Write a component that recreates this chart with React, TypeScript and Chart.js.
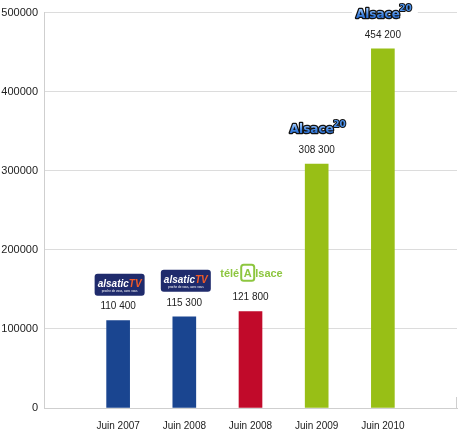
import React, { useEffect, useRef } from "react";
import { Chart, registerables } from "chart.js";

Chart.register(...registerables);

const categories = ["Juin 2007", "Juin 2008", "Juin 2008", "Juin 2009", "Juin 2010"];
const audience = [110400, 115300, 121800, 308300, 454200];
const barColors = ["#1a4590", "#1a4590", "#c10a2a", "#98bf16", "#98bf16"];
const channelLogos = ["alsatic", "alsatic", "tele", "alsace20", "alsace20"];
const yTicks = [0, 100000, 200000, 300000, 400000, 500000];

const SANS = '"Liberation Sans", Arial, sans-serif';

function fmtSpace(v: number) {
  return String(v).replace(/\B(?=(\d{3})+(?!\d))/g, " ");
}

function drawAlsatic(ctx: CanvasRenderingContext2D, cx: number, cy: number) {
  const w = 50, h = 22;
  ctx.save();
  ctx.fillStyle = "#1f2b6c";
  ctx.beginPath();
  (ctx as any).roundRect(cx - w / 2, cy - h / 2, w, h, 3);
  ctx.fill();
  ctx.font = 'italic bold 10px "Liberation Sans", sans-serif';
  ctx.textBaseline = "alphabetic";
  const a = "alsatic", t = "TV";
  const wa = ctx.measureText(a).width;
  const wt = ctx.measureText(t).width;
  const x = cx - (wa + wt) / 2;
  ctx.textAlign = "left";
  ctx.fillStyle = "#ffffff";
  ctx.fillText(a, x, cy + 2);
  ctx.fillStyle = "#f05a28";
  ctx.fillText(t, x + wa, cy + 2);
  ctx.font = '3px "Liberation Sans", sans-serif';
  ctx.fillStyle = "#ffffff";
  ctx.textAlign = "center";
  ctx.fillText("proche de vous, avec vous", cx, cy + 7);
  ctx.restore();
}

function drawTele(ctx: CanvasRenderingContext2D, cx: number, cy: number) {
  ctx.save();
  const green = "#8dc63f";
  ctx.font = 'bold 11px "Liberation Sans", sans-serif';
  ctx.textBaseline = "middle";
  ctx.textAlign = "left";
  const p1 = "télé", p2 = "A", p3 = "lsace";
  const w1 = ctx.measureText(p1).width;
  const w3 = ctx.measureText(p3).width;
  const bw = 13, gap = 2;
  const total = w1 + gap + bw + 1 + w3;
  let x = cx - total / 2;
  ctx.fillStyle = green;
  ctx.fillText(p1, x, cy + 1);
  x += w1 + gap;
  ctx.strokeStyle = green;
  ctx.lineWidth = 2;
  ctx.beginPath();
  (ctx as any).roundRect(x, cy - 8, bw, 16, 2.5);
  ctx.stroke();
  ctx.textAlign = "center";
  ctx.fillText(p2, x + bw / 2, cy + 1);
  x += bw + 1;
  ctx.textAlign = "left";
  ctx.fillText(p3, x, cy + 1);
  ctx.restore();
}

function drawAlsace20(ctx: CanvasRenderingContext2D, cx: number, cy: number) {
  ctx.save();
  ctx.font = 'bold 12px "DejaVu Sans", sans-serif';
  ctx.textBaseline = "middle";
  ctx.textAlign = "center";
  const wA = ctx.measureText("Alsace").width;
  ctx.fillStyle = "#ffffff";
  ctx.fillRect(cx - wA / 2 - 4, cy - 12, wA + 22, 22);
  const grad = ctx.createLinearGradient(0, cy - 6, 0, cy + 6);
  grad.addColorStop(0, "#9cc8ff");
  grad.addColorStop(0.5, "#3d82e0");
  grad.addColorStop(1, "#1d5cc0");
  ctx.lineJoin = "round";
  ctx.strokeStyle = "#111111";
  ctx.lineWidth = 2.5;
  ctx.strokeText("Alsace", cx, cy);
  ctx.fillStyle = grad;
  ctx.fillText("Alsace", cx, cy);
  ctx.font = 'bold 9px "DejaVu Sans", sans-serif';
  ctx.textAlign = "left";
  const sx = cx + wA / 2 - 0.5, sy = cy - 6;
  ctx.lineWidth = 2;
  ctx.strokeText("20", sx, sy);
  ctx.fillStyle = "#4a8fe8";
  ctx.fillText("20", sx, sy);
  ctx.restore();
}

const labelPlugin = {
  id: "barLabels",
  afterDatasetsDraw(chart: any) {
    const ctx: CanvasRenderingContext2D = chart.ctx;
    const meta = chart.getDatasetMeta(0);
    meta.data.forEach((bar: any, i: number) => {
      ctx.save();
      ctx.font = `10px ${SANS}`;
      ctx.fillStyle = "#222222";
      ctx.textAlign = "center";
      ctx.textBaseline = "middle";
      ctx.fillText(fmtSpace(audience[i]), bar.x, bar.y - 14);
      ctx.restore();
      const kind = channelLogos[i];
      if (kind === "alsatic") drawAlsatic(ctx, bar.x + 1.5, bar.y - 36);
      else if (kind === "tele") drawTele(ctx, bar.x + 1, bar.y - 39);
      else drawAlsace20(ctx, bar.x - 5, bar.y - 34);
    });
    const area = chart.chartArea;
    ctx.save();
    ctx.strokeStyle = "#cfcfcf";
    ctx.lineWidth = 1;
    ctx.beginPath();
    ctx.moveTo(area.right - 0.5, area.bottom - 11);
    ctx.lineTo(area.right - 0.5, area.bottom);
    ctx.stroke();
    ctx.restore();
  },
};

export default function App() {
  const ref = useRef<HTMLCanvasElement | null>(null);
  useEffect(() => {
    if (!ref.current) return;
    const chart = new Chart(ref.current, {
      type: "bar",
      data: {
        datasets: [
          {
            data: audience.map((v, i) => ({ x: i, y: v })),
            backgroundColor: barColors,
            barThickness: 23,
          },
        ],
      },
      options: {
        responsive: false,
        animation: false,
        layout: { padding: { left: 0, right: 3, top: 10, bottom: 0 } },
        plugins: { legend: { display: false }, tooltip: { enabled: false } },
        scales: {
          x: {
            type: "linear",
            offset: false,
            min: -1.12,
            max: 5.12,
            grid: { display: false, drawTicks: false, offset: false },
            border: { display: true, color: "#cfcfcf" },
            afterBuildTicks: (s: any) => {
              s.ticks = categories.map((_, i) => ({ value: i }));
            },
            afterFit: (s: any) => {
              s.height = 28;
            },
            ticks: {
              autoSkip: false,
              maxRotation: 0,
              padding: 12,
              color: "#222222",
              font: { family: SANS, size: 10 },
              callback: (v: any) => {
                const i = Math.round(Number(v));
                return Math.abs(Number(v) - i) < 1e-6 && categories[i] ? categories[i] : "";
              },
            },
          },
          y: {
            min: 0,
            max: 500000,
            afterBuildTicks: (s: any) => {
              s.ticks = yTicks.map((v) => ({ value: v }));
            },
            afterFit: (s: any) => {
              s.width = 44;
            },
            grid: { color: "#dcdcdc", drawTicks: false },
            border: { display: true, color: "#cfcfcf" },
            ticks: {
              padding: 6,
              color: "#222222",
              font: { family: SANS, size: 11 },
              callback: (v: any) => String(v),
            },
          },
        },
      },
      plugins: [labelPlugin],
    });
    return () => chart.destroy();
  }, []);
  return (
    <div style={{ position: "absolute", left: 0, top: 0, width: 460, height: 436, background: "#fff" }}>
      <canvas ref={ref} width={460} height={436} />
    </div>
  );
}
